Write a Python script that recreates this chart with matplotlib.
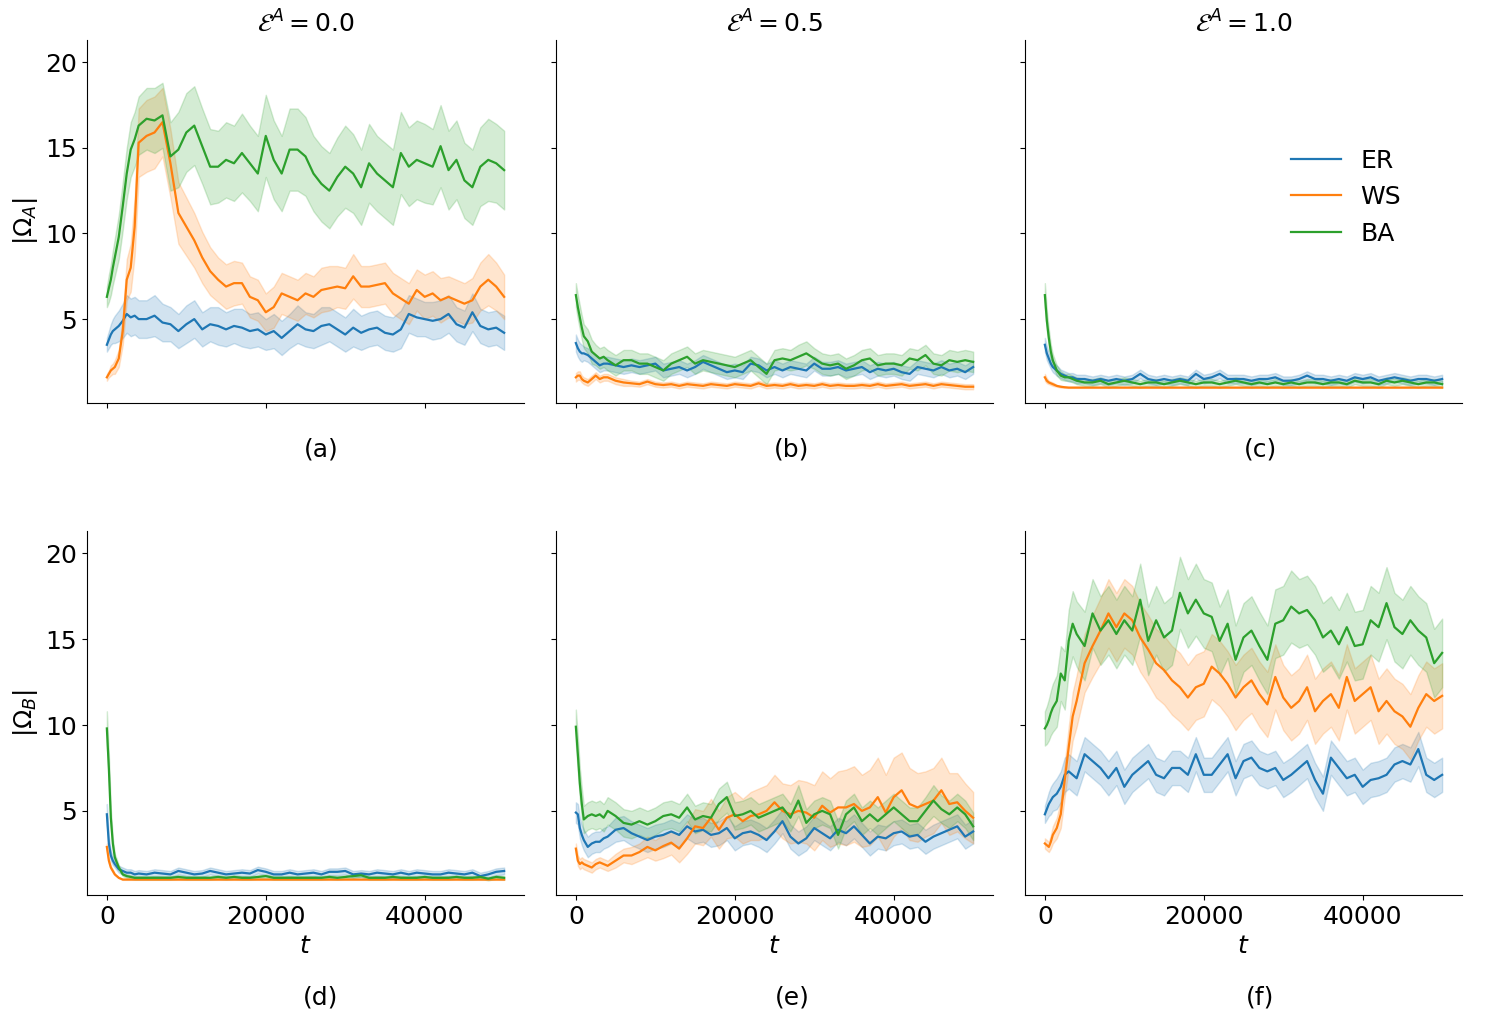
import numpy as np
import matplotlib
matplotlib.use("Agg")
import matplotlib.pyplot as plt

# time grid (finer at the start, where the curves change fast)
T = [0, 250, 500, 750, 1000, 1500, 2000, 2500, 3000, 3500, 4000,
     5000, 6000, 7000, 8000, 9000, 10000, 11000, 12000, 13000, 14000,
     15000, 16000, 17000, 18000, 19000, 20000, 21000, 22000, 23000, 24000,
     25000, 26000, 27000, 28000, 29000, 30000, 31000, 32000, 33000, 34000,
     35000, 36000, 37000, 38000, 39000, 40000, 41000, 42000, 43000, 44000,
     45000, 46000, 47000, 48000, 49000, 50000]

networks = ["ER", "WS", "BA"]
colors = ["#1f77b4", "#ff7f0e", "#2ca02c"]
eps_values = ["0.0", "0.5", "1.0"]
panel_tags = ["(a)", "(b)", "(c)", "(d)", "(e)", "(f)"]

# ---- |Omega_A|, E^A = 0.0  (a)
A_ER = [3.5, 3.8, 4.1, 4.3, 4.4, 4.6, 4.9, 5.3, 5.1, 5.2, 5.0,
        5.0, 5.2, 4.8, 4.7, 4.3, 4.7, 5.0, 4.4, 4.7, 4.6,
        4.4, 4.6, 4.5, 4.3, 4.4, 4.1, 4.3, 3.9, 4.3, 4.7,
        4.4, 4.3, 4.6, 4.7, 4.4, 4.1, 4.5, 4.2, 4.4, 4.5,
        4.2, 4.1, 4.4, 5.3, 5.1, 5.0, 4.9, 5.0, 5.3, 4.7,
        4.5, 5.4, 4.6, 4.4, 4.5, 4.2]
A_ER_CI = [0.4, 0.5, 0.6, 0.7, 0.8, 0.9, 1.0, 1.1, 1.1, 1.1, 1.1,
           1.1, 1.2, 1.1, 1.0, 1.0, 1.1, 1.1, 1.0, 1.0, 1.1,
           1.0, 1.0, 1.1, 1.0, 1.0, 0.9, 1.0, 1.0, 1.0, 1.1,
           1.0, 1.0, 1.1, 1.0, 1.0, 1.0, 1.1, 1.0, 1.0, 1.0,
           1.0, 1.0, 1.1, 1.1, 1.1, 1.0, 1.1, 1.1, 1.1, 1.0,
           1.0, 1.1, 1.0, 1.0, 1.0, 1.0]
A_WS = [1.6, 1.8, 2.0, 2.1, 2.2, 2.7, 4.3, 7.3, 8.0, 10.4, 15.3,
        15.7, 15.9, 16.5, 14.1, 11.2, 10.4, 9.6, 8.6, 7.8, 7.3,
        6.9, 7.1, 7.1, 6.3, 6.1, 5.4, 5.7, 6.5, 6.3, 6.1,
        6.5, 6.3, 6.7, 6.8, 6.9, 6.8, 7.5, 6.9, 6.9, 7.0,
        7.1, 6.5, 6.2, 5.9, 6.7, 6.3, 6.5, 6.1, 6.3, 6.1,
        5.9, 6.1, 6.9, 7.3, 6.9, 6.3]
A_WS_CI = [0.2, 0.2, 0.3, 0.3, 0.4, 0.5, 0.8, 1.2, 1.4, 1.7, 2.0,
           2.1, 2.1, 2.0, 2.0, 1.8, 1.7, 1.6, 1.5, 1.4, 1.3,
           1.3, 1.3, 1.2, 1.2, 1.2, 1.1, 1.2, 1.2, 1.2, 1.2,
           1.2, 1.2, 1.3, 1.3, 1.2, 1.2, 1.3, 1.2, 1.2, 1.2,
           1.2, 1.2, 1.2, 1.2, 1.2, 1.3, 1.3, 1.3, 1.2, 1.2,
           1.2, 1.3, 1.4, 1.5, 1.4, 1.3]
A_BA = [6.3, 6.8, 7.3, 8.0, 8.6, 9.8, 11.6, 13.5, 14.9, 15.5, 16.3,
        16.7, 16.6, 16.9, 14.5, 14.9, 15.9, 16.3, 15.1, 13.9, 13.9,
        14.3, 14.1, 14.7, 14.1, 13.5, 15.7, 14.3, 13.5, 14.9, 14.9,
        14.5, 13.5, 12.9, 12.5, 13.3, 13.9, 13.5, 12.7, 14.1, 13.5,
        13.1, 12.7, 14.7, 13.9, 14.3, 14.1, 13.9, 15.1, 13.7, 14.3,
        13.1, 12.7, 13.9, 14.3, 14.1, 13.7]
A_BA_CI = [0.6, 0.8, 0.9, 1.0, 1.1, 1.3, 1.4, 1.5, 1.6, 1.6, 1.7,
           1.8, 1.9, 1.9, 2.0, 2.2, 2.3, 2.3, 2.2, 2.2, 2.1,
           2.2, 2.2, 2.3, 2.2, 2.2, 2.4, 2.3, 2.2, 2.4, 2.4,
           2.3, 2.2, 2.2, 2.2, 2.3, 2.4, 2.3, 2.2, 2.3, 2.2,
           2.2, 2.2, 2.4, 2.3, 2.3, 2.3, 2.2, 2.4, 2.3, 2.3,
           2.2, 2.2, 2.3, 2.4, 2.3, 2.3]

# ---- |Omega_A|, E^A = 0.5  (b)
B_ER = [3.6, 3.3, 3.1, 3.0, 3.0, 2.9, 2.7, 2.5, 2.3, 2.4, 2.4,
        2.3, 2.2, 2.3, 2.2, 2.3, 2.4, 2.0, 2.1, 2.2, 2.0,
        2.2, 2.5, 2.3, 2.1, 1.9, 2.0, 1.9, 2.4, 2.3, 2.0,
        2.2, 2.0, 2.2, 2.1, 2.0, 2.4, 2.1, 2.1, 2.2, 2.0,
        2.1, 2.2, 1.9, 2.1, 2.0, 2.1, 1.9, 1.8, 2.2, 2.1,
        2.0, 2.2, 2.0, 2.1, 1.9, 2.2]
B_ER_CI = [0.5, 0.5, 0.5, 0.5, 0.4, 0.4, 0.4, 0.4, 0.4, 0.4, 0.4,
           0.4, 0.4, 0.4, 0.4, 0.4, 0.4, 0.4, 0.4, 0.4, 0.4,
           0.4, 0.4, 0.4, 0.4, 0.4, 0.4, 0.4, 0.4, 0.4, 0.4,
           0.4, 0.4, 0.4, 0.4, 0.4, 0.4, 0.4, 0.4, 0.4, 0.4,
           0.4, 0.4, 0.4, 0.4, 0.4, 0.4, 0.4, 0.4, 0.4, 0.4,
           0.4, 0.4, 0.4, 0.4, 0.4, 0.4]
B_WS = [1.6, 1.7, 1.7, 1.5, 1.4, 1.3, 1.5, 1.7, 1.5, 1.6, 1.6,
        1.4, 1.3, 1.25, 1.2, 1.35, 1.2, 1.15, 1.2, 1.1, 1.2,
        1.15, 1.1, 1.2, 1.15, 1.1, 1.2, 1.15, 1.1, 1.25, 1.1,
        1.15, 1.1, 1.2, 1.1, 1.15, 1.1, 1.2, 1.1, 1.15, 1.1,
        1.1, 1.15, 1.1, 1.2, 1.1, 1.15, 1.2, 1.1, 1.15, 1.2,
        1.1, 1.2, 1.15, 1.1, 1.05, 1.05]
B_WS_CI = [0.25, 0.25, 0.25, 0.2, 0.2, 0.2, 0.2, 0.2, 0.2, 0.2, 0.2,
           0.2, 0.2, 0.15, 0.15, 0.15, 0.15, 0.15, 0.15, 0.15, 0.15,
           0.15, 0.15, 0.15, 0.15, 0.15, 0.15, 0.15, 0.15, 0.15, 0.15,
           0.15, 0.15, 0.15, 0.15, 0.15, 0.15, 0.15, 0.15, 0.15, 0.15,
           0.15, 0.15, 0.15, 0.15, 0.15, 0.15, 0.15, 0.15, 0.15, 0.15,
           0.15, 0.15, 0.15, 0.15, 0.15, 0.15]
B_BA = [6.4, 5.7, 5.1, 4.5, 4.0, 3.7, 3.1, 2.9, 2.7, 2.8, 2.6,
        2.3, 2.6, 2.6, 2.4, 2.4, 2.2, 2.0, 2.4, 2.6, 2.8,
        2.4, 2.6, 2.5, 2.4, 2.3, 2.2, 2.4, 2.6, 2.2, 1.8,
        2.6, 2.7, 2.6, 2.8, 3.0, 2.7, 2.4, 2.3, 2.4, 2.1,
        2.3, 2.6, 2.7, 2.3, 2.4, 2.4, 2.3, 2.7, 2.6, 2.9,
        2.4, 2.3, 2.6, 2.5, 2.6, 2.5]
B_BA_CI = [0.7, 0.7, 0.7, 0.7, 0.7, 0.7, 0.7, 0.6, 0.6, 0.6, 0.6,
           0.6, 0.6, 0.6, 0.6, 0.6, 0.6, 0.6, 0.6, 0.6, 0.6,
           0.6, 0.6, 0.6, 0.6, 0.6, 0.6, 0.6, 0.6, 0.6, 0.6,
           0.6, 0.6, 0.6, 0.7, 0.7, 0.6, 0.6, 0.6, 0.6, 0.6,
           0.6, 0.6, 0.6, 0.6, 0.6, 0.6, 0.6, 0.6, 0.6, 0.6,
           0.6, 0.6, 0.6, 0.6, 0.6, 0.6]

# ---- |Omega_A|, E^A = 1.0  (c)
C_ER = [3.5, 3.0, 2.7, 2.4, 2.2, 2.0, 1.8, 1.7, 1.6, 1.6, 1.5,
        1.5, 1.4, 1.5, 1.4, 1.5, 1.4, 1.5, 1.8, 1.5, 1.4,
        1.5, 1.4, 1.5, 1.4, 1.8, 1.5, 1.6, 1.8, 1.5, 1.5,
        1.5, 1.4, 1.5, 1.5, 1.6, 1.4, 1.4, 1.5, 1.7, 1.5,
        1.5, 1.4, 1.5, 1.4, 1.6, 1.5, 1.6, 1.4, 1.5, 1.6,
        1.5, 1.4, 1.5, 1.5, 1.4, 1.5]
C_ER_CI = [0.4, 0.4, 0.35, 0.3, 0.3, 0.3, 0.25, 0.25, 0.25, 0.25, 0.25,
           0.25, 0.25, 0.25, 0.25, 0.25, 0.25, 0.25, 0.25, 0.25, 0.25,
           0.25, 0.25, 0.25, 0.25, 0.25, 0.25, 0.25, 0.25, 0.25, 0.25,
           0.25, 0.25, 0.25, 0.25, 0.25, 0.25, 0.25, 0.25, 0.25, 0.25,
           0.25, 0.25, 0.25, 0.25, 0.25, 0.25, 0.25, 0.25, 0.25, 0.25,
           0.25, 0.25, 0.25, 0.25, 0.25, 0.25]
C_WS = [1.6, 1.4, 1.3, 1.25, 1.2, 1.1, 1.05, 1.02, 1.0, 1.0, 1.0,
        1.0, 1.0, 1.0, 1.0, 1.0, 1.0, 1.0, 1.0, 1.0, 1.0,
        1.0, 1.0, 1.0, 1.0, 1.0, 1.0, 1.0, 1.0, 1.0, 1.0,
        1.0, 1.0, 1.0, 1.0, 1.0, 1.0, 1.0, 1.0, 1.0, 1.0,
        1.0, 1.0, 1.0, 1.0, 1.0, 1.0, 1.0, 1.0, 1.0, 1.0,
        1.0, 1.0, 1.0, 1.0, 1.0, 1.0]
C_WS_CI = [0.2, 0.15, 0.1, 0.1, 0.1, 0.05, 0.05, 0.03, 0.02, 0.02, 0.02,
           0.02, 0.02, 0.02, 0.02, 0.02, 0.02, 0.02, 0.02, 0.02, 0.02,
           0.02, 0.02, 0.02, 0.02, 0.02, 0.02, 0.02, 0.02, 0.02, 0.02,
           0.02, 0.02, 0.02, 0.02, 0.02, 0.02, 0.02, 0.02, 0.02, 0.02,
           0.02, 0.02, 0.02, 0.02, 0.02, 0.02, 0.02, 0.02, 0.02, 0.02,
           0.02, 0.02, 0.02, 0.02, 0.02, 0.02]
C_BA = [6.4, 4.9, 3.9, 3.1, 2.6, 2.0, 1.7, 1.6, 1.6, 1.5, 1.4,
        1.3, 1.3, 1.4, 1.2, 1.3, 1.4, 1.3, 1.2, 1.3, 1.3,
        1.2, 1.3, 1.4, 1.3, 1.2, 1.3, 1.3, 1.2, 1.3, 1.4,
        1.3, 1.2, 1.3, 1.2, 1.3, 1.2, 1.3, 1.2, 1.3, 1.3,
        1.2, 1.3, 1.3, 1.2, 1.4, 1.3, 1.3, 1.2, 1.4, 1.3,
        1.4, 1.3, 1.2, 1.3, 1.3, 1.2]
C_BA_CI = [0.7, 0.6, 0.5, 0.4, 0.35, 0.3, 0.25, 0.2, 0.2, 0.2, 0.2,
           0.2, 0.2, 0.2, 0.2, 0.2, 0.2, 0.2, 0.2, 0.2, 0.2,
           0.2, 0.2, 0.2, 0.2, 0.2, 0.2, 0.2, 0.2, 0.2, 0.2,
           0.2, 0.2, 0.2, 0.2, 0.2, 0.2, 0.2, 0.2, 0.2, 0.2,
           0.2, 0.2, 0.2, 0.2, 0.2, 0.2, 0.2, 0.2, 0.2, 0.2,
           0.2, 0.2, 0.2, 0.2, 0.2, 0.2]

# ---- |Omega_B|, E^A = 0.0  (d)
D_ER = [4.8, 3.1, 2.4, 2.1, 1.9, 1.6, 1.5, 1.4, 1.4, 1.3, 1.35,
        1.3, 1.4, 1.35, 1.3, 1.5, 1.4, 1.3, 1.35, 1.5, 1.4,
        1.3, 1.35, 1.4, 1.35, 1.55, 1.45, 1.3, 1.3, 1.4, 1.3,
        1.35, 1.4, 1.3, 1.45, 1.45, 1.5, 1.3, 1.35, 1.3, 1.4,
        1.35, 1.3, 1.4, 1.3, 1.4, 1.35, 1.3, 1.3, 1.4, 1.35,
        1.3, 1.4, 1.2, 1.3, 1.45, 1.5]
D_ER_CI = [0.6, 0.4, 0.3, 0.25, 0.2, 0.2, 0.2, 0.2, 0.2, 0.2, 0.2,
           0.2, 0.2, 0.2, 0.2, 0.2, 0.2, 0.2, 0.2, 0.2, 0.2,
           0.2, 0.2, 0.2, 0.2, 0.2, 0.2, 0.2, 0.2, 0.2, 0.2,
           0.2, 0.2, 0.2, 0.2, 0.2, 0.2, 0.2, 0.2, 0.2, 0.2,
           0.2, 0.2, 0.2, 0.2, 0.2, 0.2, 0.2, 0.2, 0.2, 0.2,
           0.2, 0.2, 0.2, 0.2, 0.2, 0.2]
D_WS = [2.9, 2.1, 1.7, 1.5, 1.3, 1.1, 1.0, 1.0, 1.0, 1.0, 1.0,
        1.0, 1.0, 1.0, 1.0, 1.0, 1.0, 1.0, 1.0, 1.0, 1.0,
        1.0, 1.0, 1.0, 1.0, 1.0, 1.0, 1.0, 1.0, 1.0, 1.0,
        1.0, 1.0, 1.0, 1.0, 1.0, 1.0, 1.0, 1.0, 1.0, 1.0,
        1.0, 1.0, 1.0, 1.0, 1.0, 1.0, 1.0, 1.0, 1.0, 1.0,
        1.0, 1.0, 1.0, 1.0, 1.0, 1.0]
D_WS_CI = [0.2, 0.15, 0.1, 0.1, 0.05, 0.03, 0.02, 0.02, 0.02, 0.02, 0.02,
           0.02, 0.02, 0.02, 0.02, 0.02, 0.02, 0.02, 0.02, 0.02, 0.02,
           0.02, 0.02, 0.02, 0.02, 0.02, 0.02, 0.02, 0.02, 0.02, 0.02,
           0.02, 0.02, 0.02, 0.02, 0.02, 0.02, 0.02, 0.02, 0.02, 0.02,
           0.02, 0.02, 0.02, 0.02, 0.02, 0.02, 0.02, 0.02, 0.02, 0.02,
           0.02, 0.02, 0.02, 0.02, 0.02, 0.02]
D_BA = [9.8, 7.5, 4.6, 3.1, 2.3, 1.7, 1.3, 1.2, 1.15, 1.1, 1.1,
        1.1, 1.1, 1.1, 1.1, 1.15, 1.1, 1.1, 1.1, 1.1, 1.15,
        1.1, 1.15, 1.1, 1.1, 1.15, 1.2, 1.1, 1.1, 1.1, 1.1,
        1.1, 1.1, 1.1, 1.15, 1.1, 1.15, 1.2, 1.25, 1.1, 1.1,
        1.1, 1.15, 1.1, 1.1, 1.1, 1.15, 1.1, 1.1, 1.1, 1.15,
        1.1, 1.1, 1.15, 1.05, 1.15, 1.1]
D_BA_CI = [1.0, 0.8, 0.5, 0.3, 0.2, 0.15, 0.1, 0.1, 0.1, 0.1, 0.1,
           0.1, 0.1, 0.1, 0.1, 0.1, 0.1, 0.1, 0.1, 0.1, 0.1,
           0.1, 0.1, 0.1, 0.1, 0.1, 0.1, 0.1, 0.1, 0.1, 0.1,
           0.1, 0.1, 0.1, 0.1, 0.1, 0.1, 0.1, 0.1, 0.1, 0.1,
           0.1, 0.1, 0.1, 0.1, 0.1, 0.1, 0.1, 0.1, 0.1, 0.1,
           0.1, 0.1, 0.1, 0.1, 0.1, 0.1]

# ---- |Omega_B|, E^A = 0.5  (e)
E_ER = [4.9, 4.8, 4.0, 3.6, 3.3, 2.9, 3.1, 3.2, 3.2, 3.4, 3.5,
        3.9, 4.0, 3.7, 3.5, 3.3, 3.5, 3.6, 3.8, 3.6, 4.1,
        3.8, 3.9, 3.6, 3.7, 4.0, 3.4, 3.7, 3.8, 3.6, 3.3,
        3.8, 4.4, 3.5, 3.1, 3.4, 4.0, 3.7, 3.4, 3.9, 3.7,
        4.1, 3.6, 3.1, 3.5, 3.4, 3.7, 3.8, 3.5, 3.6, 3.2,
        3.5, 3.7, 3.9, 4.1, 3.5, 3.8]
E_ER_CI = [0.6, 0.6, 0.6, 0.6, 0.6, 0.6, 0.6, 0.6, 0.6, 0.6, 0.6,
           0.7, 0.7, 0.7, 0.7, 0.7, 0.7, 0.7, 0.7, 0.7, 0.7,
           0.7, 0.7, 0.7, 0.7, 0.7, 0.7, 0.7, 0.7, 0.7, 0.7,
           0.7, 0.7, 0.7, 0.7, 0.7, 0.7, 0.7, 0.7, 0.7, 0.7,
           0.7, 0.7, 0.7, 0.7, 0.7, 0.7, 0.7, 0.7, 0.7, 0.7,
           0.7, 0.7, 0.7, 0.7, 0.7, 0.7]
E_WS = [2.8, 2.1, 1.9, 2.0, 1.9, 1.8, 1.7, 1.9, 2.0, 1.9, 1.8,
        2.1, 2.4, 2.4, 2.6, 2.9, 2.7, 2.95, 3.15, 2.8, 3.4,
        4.1, 4.0, 4.6, 3.9, 4.6, 4.8, 4.4, 4.7, 4.8, 5.0,
        5.5, 5.0, 4.8, 5.0, 4.9, 4.6, 5.3, 4.9, 5.2, 5.2,
        5.4, 5.0, 5.2, 5.8, 4.9, 5.8, 6.2, 5.4, 5.2, 5.4,
        5.6, 6.2, 5.4, 5.5, 5.0, 4.6]
E_WS_CI = [0.3, 0.3, 0.3, 0.3, 0.3, 0.3, 0.3, 0.3, 0.3, 0.3, 0.3,
           0.4, 0.4, 0.5, 0.5, 0.6, 0.6, 0.7, 0.7, 0.8, 0.9,
           1.0, 1.0, 1.1, 1.1, 1.2, 1.3, 1.3, 1.4, 1.5, 1.5,
           1.6, 1.6, 1.7, 1.8, 1.8, 1.9, 2.0, 2.0, 2.1, 2.2,
           2.2, 2.1, 2.2, 2.3, 2.2, 2.3, 2.2, 2.1, 2.0, 1.9,
           1.9, 1.9, 1.8, 1.7, 1.6, 1.5]
E_BA = [9.9, 8.3, 6.6, 5.4, 4.5, 4.7, 4.8, 4.7, 4.8, 4.6, 5.0,
        4.7, 4.3, 4.2, 4.4, 4.2, 4.4, 4.7, 4.8, 4.6, 5.2,
        4.5, 4.7, 4.6, 5.4, 5.8, 4.7, 4.8, 5.0, 4.6, 4.8,
        5.0, 5.2, 4.6, 5.6, 4.3, 4.8, 5.0, 4.8, 3.6, 4.8,
        5.2, 4.4, 4.8, 4.4, 4.8, 5.2, 4.8, 4.4, 4.4, 5.0,
        5.6, 5.1, 4.8, 5.2, 4.8, 4.1]
E_BA_CI = [1.0, 1.0, 0.9, 0.9, 0.8, 0.8, 0.8, 0.8, 0.8, 0.8, 0.8,
           0.8, 0.8, 0.8, 0.8, 0.8, 0.8, 0.8, 0.8, 0.8, 0.8,
           0.8, 0.8, 0.8, 0.9, 0.9, 0.8, 0.8, 0.8, 0.8, 0.8,
           0.8, 0.8, 0.8, 0.9, 0.8, 0.8, 0.8, 0.8, 0.8, 0.8,
           0.8, 0.8, 0.8, 0.8, 0.8, 0.8, 0.8, 0.8, 0.8, 0.8,
           0.9, 0.8, 0.8, 0.8, 0.8, 0.8]

# ---- |Omega_B|, E^A = 1.0  (f)
F_ER = [4.8, 5.1, 5.4, 5.6, 5.8, 6.0, 6.4, 7.1, 7.3, 7.1, 6.9,
        8.3, 7.9, 7.5, 6.9, 7.5, 6.4, 7.1, 7.5, 7.9, 7.1,
        6.9, 7.5, 7.5, 7.1, 8.3, 7.1, 7.1, 7.7, 8.3, 6.9,
        7.9, 8.1, 7.5, 7.3, 7.5, 6.8, 7.1, 7.5, 7.9, 6.8,
        6.0, 8.1, 7.5, 6.9, 7.1, 6.4, 6.8, 6.9, 7.1, 7.7,
        7.9, 7.7, 8.6, 7.1, 6.8, 7.1]
F_ER_CI = [0.5, 0.6, 0.7, 0.8, 0.8, 0.9, 0.9, 1.0, 1.0, 1.0, 1.0,
           1.0, 1.0, 1.0, 1.0, 1.0, 1.0, 1.0, 1.0, 1.0, 1.0,
           1.0, 1.0, 1.0, 1.0, 1.0, 1.0, 1.0, 1.0, 1.0, 1.0,
           1.0, 1.0, 1.0, 1.0, 1.0, 1.0, 1.0, 1.0, 1.0, 1.0,
           1.0, 1.0, 1.0, 1.0, 1.0, 1.0, 1.0, 1.0, 1.0, 1.0,
           1.0, 1.0, 1.0, 1.0, 1.0, 1.0]
F_WS = [3.1, 3.0, 2.9, 3.2, 3.6, 4.0, 4.8, 6.8, 8.7, 10.5, 11.4,
        13.6, 14.6, 15.5, 16.5, 15.7, 16.5, 16.1, 15.1, 14.4, 13.6,
        13.2, 12.6, 12.2, 11.6, 12.2, 12.4, 13.4, 13.0, 12.4, 11.6,
        12.2, 12.6, 11.8, 11.2, 12.8, 11.6, 11.0, 11.4, 12.2, 10.8,
        11.4, 11.8, 11.0, 12.8, 11.4, 11.8, 12.2, 10.8, 11.4, 10.8,
        10.5, 9.9, 11.0, 11.8, 11.4, 11.7]
F_WS_CI = [0.3, 0.3, 0.3, 0.4, 0.5, 0.6, 0.8, 1.0, 1.2, 1.4, 1.5,
           1.7, 1.8, 1.9, 2.0, 2.0, 2.0, 2.0, 2.0, 2.0, 2.0,
           2.0, 2.0, 2.0, 1.9, 1.9, 1.9, 1.9, 1.9, 1.9, 1.9,
           1.9, 1.9, 1.9, 1.9, 1.9, 1.9, 1.9, 1.9, 1.9, 1.9,
           1.9, 1.9, 1.9, 1.9, 1.9, 1.9, 1.9, 1.9, 1.9, 1.9,
           1.9, 1.9, 1.9, 1.9, 1.9, 1.9]
F_BA = [9.8, 10.0, 10.3, 10.7, 11.0, 11.4, 13.0, 12.6, 14.9, 15.9, 15.3,
        14.6, 16.5, 15.5, 16.1, 15.3, 16.1, 15.5, 17.3, 14.9, 16.1,
        15.1, 15.5, 17.7, 16.5, 17.3, 16.5, 16.3, 14.9, 15.9, 13.8,
        15.1, 15.5, 14.6, 13.8, 15.9, 16.1, 16.9, 16.5, 16.7, 16.1,
        15.1, 15.5, 14.7, 15.7, 14.6, 14.7, 16.1, 15.7, 17.1, 15.7,
        15.3, 16.1, 15.5, 15.1, 13.6, 14.2]
F_BA_CI = [1.0, 1.1, 1.2, 1.3, 1.4, 1.5, 1.6, 1.7, 1.8, 1.9, 1.9,
           2.0, 2.0, 2.0, 2.0, 2.0, 2.0, 2.0, 2.1, 2.0, 2.0,
           2.0, 2.0, 2.1, 2.0, 2.1, 2.0, 2.0, 2.0, 2.0, 2.0,
           2.0, 2.0, 2.0, 2.0, 2.0, 2.0, 2.1, 2.0, 2.0, 2.0,
           2.0, 2.0, 2.0, 2.0, 2.0, 2.0, 2.0, 2.0, 2.1, 2.0,
           2.0, 2.0, 2.0, 2.0, 2.0, 2.0]

panels = [
    [(A_ER, A_ER_CI), (A_WS, A_WS_CI), (A_BA, A_BA_CI)],
    [(B_ER, B_ER_CI), (B_WS, B_WS_CI), (B_BA, B_BA_CI)],
    [(C_ER, C_ER_CI), (C_WS, C_WS_CI), (C_BA, C_BA_CI)],
    [(D_ER, D_ER_CI), (D_WS, D_WS_CI), (D_BA, D_BA_CI)],
    [(E_ER, E_ER_CI), (E_WS, E_WS_CI), (E_BA, E_BA_CI)],
    [(F_ER, F_ER_CI), (F_WS, F_WS_CI), (F_BA, F_BA_CI)],
]

plt.rcParams['font.size'] = 18
plt.rcParams['mathtext.fontset'] = 'dejavusans'

W, H = 1506, 1019
fig = plt.figure(figsize=(W / 100, H / 100), dpi=100)

# axes boxes in pixels: left edges, top/bottom of each row
lefts = [87, 556, 1025]
ax_w = 437
rows = [(40, 403), (531, 895)]

t = np.array(T)
axes = []
for r, (top, bottom) in enumerate(rows):
    for c, left in enumerate(lefts):
        ax = fig.add_axes([left / W, 1 - bottom / H, ax_w / W, (bottom - top) / H])
        idx = r * 3 + c
        for k, (mean, ci) in enumerate(panels[idx]):
            mean = np.array(mean)
            ci = np.array(ci)
            ax.fill_between(t, mean - ci, mean + ci, color=colors[k], alpha=0.2, linewidth=1)
            ax.plot(t, mean, color=colors[k], lw=1.6, label=networks[k])
        ax.set_xlim(-2500, 52500)
        ax.set_ylim(0.1, 21.3)
        ax.set_xticks([0, 20000, 40000])
        ax.set_yticks([5, 10, 15, 20])
        ax.spines['top'].set_visible(False)
        ax.spines['right'].set_visible(False)
        if r == 0:
            ax.set_title(r'$\mathcal{E}^A = ' + eps_values[c] + '$', fontsize=18)
            ax.tick_params(labelbottom=False)
        else:
            ax.set_xlabel(r'$t$')
        if c == 0:
            ax.set_ylabel(r'$|\Omega_A|$' if r == 0 else r'$|\Omega_B|$')
        else:
            ax.tick_params(labelleft=False)
        axes.append(ax)

# panel tags under each plot
tag_x = [321, 792, 1260]
tag_y = [450, 997]
for r in range(2):
    for c in range(3):
        fig.text(tag_x[c] / W, 1 - tag_y[r] / H, panel_tags[r * 3 + c],
                 ha='center', va='center', fontsize=18)

axes[2].legend(loc='center left', bbox_to_anchor=(0.585, 0.567), frameon=False,
               borderaxespad=0, fontsize=18)

fig.savefig("out.png", dpi=100)
